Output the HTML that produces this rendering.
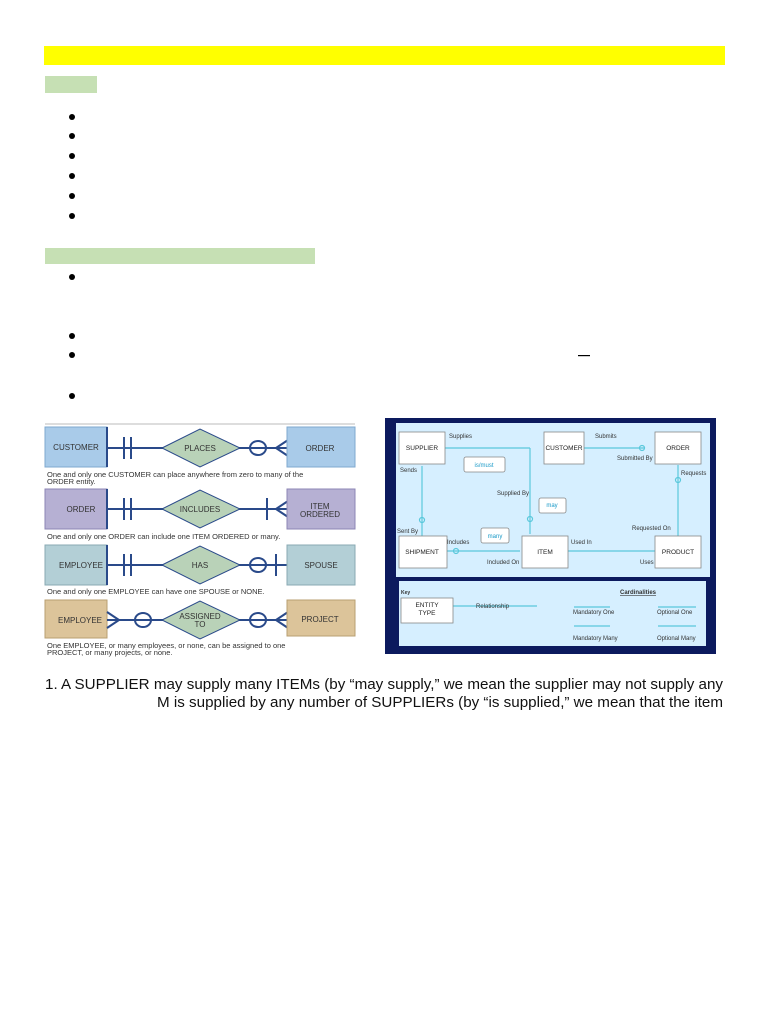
<!DOCTYPE html>
<html><head><meta charset="utf-8"><style>
html,body{margin:0;padding:0;background:#fff;}
svg{display:block;font-family:"Liberation Sans",Arial,sans-serif;}
</style></head><body>
<svg width="768" height="1024" viewBox="0 0 768 1024" xmlns="http://www.w3.org/2000/svg">
<rect x="44" y="46" width="681" height="19" fill="#ffff00"/>
<rect x="45" y="76" width="52" height="17" fill="#c6e0b4"/>
<rect x="45" y="248" width="270" height="16" fill="#c6e0b4"/>
<g fill="#000">
<circle cx="72" cy="117" r="3"/><circle cx="72" cy="136" r="3"/><circle cx="72" cy="156" r="3"/>
<circle cx="72" cy="176" r="3"/><circle cx="72" cy="196" r="3"/><circle cx="72" cy="216" r="3"/>
<circle cx="72" cy="277" r="3"/><circle cx="72" cy="336" r="3"/><circle cx="72" cy="355" r="3"/>
<circle cx="72" cy="396" r="3"/>
</g>
<rect x="578" y="355" width="12" height="1.2" fill="#000"/>

<!-- Left diagram -->
<g font-size="8" fill="#333">
<line x1="45" y1="424" x2="355" y2="424" stroke="#bbb"/>
<!-- row1 -->
<rect x="45" y="427" width="62" height="40" fill="#a9cbe9" stroke="#7fa8cf"/>
<rect x="106" y="427" width="2" height="40" fill="#2a4a8a"/>
<text x="76" y="450" text-anchor="middle">CUSTOMER</text>
<line x1="108" y1="448" x2="288" y2="448" stroke="#2a4a8a" stroke-width="2"/>
<line x1="124" y1="437" x2="124" y2="459" stroke="#2a4a8a" stroke-width="2"/>
<line x1="131" y1="437" x2="131" y2="459" stroke="#2a4a8a" stroke-width="2"/>
<polygon points="162,448 200,429 240,448 200,467" fill="#b9d2b8" stroke="#2a4a8a"/>
<text x="200" y="451" text-anchor="middle">PLACES</text>
<ellipse cx="258" cy="448" rx="8" ry="7" fill="none" stroke="#2a4a8a" stroke-width="2"/>
<line x1="276" y1="448" x2="288" y2="440" stroke="#2a4a8a" stroke-width="2"/>
<line x1="276" y1="448" x2="288" y2="456" stroke="#2a4a8a" stroke-width="2"/>
<rect x="287" y="427" width="68" height="40" fill="#a9cbe9" stroke="#7fa8cf"/>
<text x="320" y="451" text-anchor="middle">ORDER</text>
<text x="47" y="477" font-size="7.5">One and only one CUSTOMER can place anywhere from zero to many of the</text>
<text x="47" y="484" font-size="7.5">ORDER entity.</text>
<!-- row2 -->
<rect x="45" y="489" width="62" height="40" fill="#b6b0d3" stroke="#8c86b4"/>
<rect x="106" y="489" width="2" height="40" fill="#2a4a8a"/>
<text x="81" y="512" text-anchor="middle">ORDER</text>
<line x1="108" y1="509" x2="288" y2="509" stroke="#2a4a8a" stroke-width="2"/>
<line x1="124" y1="498" x2="124" y2="520" stroke="#2a4a8a" stroke-width="2"/>
<line x1="131" y1="498" x2="131" y2="520" stroke="#2a4a8a" stroke-width="2"/>
<polygon points="162,509 200,490 240,509 200,528" fill="#b9d2b8" stroke="#2a4a8a"/>
<text x="200" y="512" text-anchor="middle">INCLUDES</text>
<line x1="267" y1="498" x2="267" y2="520" stroke="#2a4a8a" stroke-width="2"/>
<line x1="276" y1="509" x2="288" y2="501" stroke="#2a4a8a" stroke-width="2"/>
<line x1="276" y1="509" x2="288" y2="517" stroke="#2a4a8a" stroke-width="2"/>
<rect x="287" y="489" width="68" height="40" fill="#b6b0d3" stroke="#8c86b4"/>
<text x="320" y="509" text-anchor="middle">ITEM</text>
<text x="320" y="517" text-anchor="middle">ORDERED</text>
<text x="47" y="539" font-size="7.5">One and only one ORDER can include one ITEM ORDERED or many.</text>
<!-- row3 -->
<rect x="45" y="545" width="62" height="40" fill="#b3cfd6" stroke="#88aab3"/>
<rect x="106" y="545" width="2" height="40" fill="#2a4a8a"/>
<text x="81" y="568" text-anchor="middle">EMPLOYEE</text>
<line x1="108" y1="565" x2="288" y2="565" stroke="#2a4a8a" stroke-width="2"/>
<line x1="124" y1="554" x2="124" y2="576" stroke="#2a4a8a" stroke-width="2"/>
<line x1="131" y1="554" x2="131" y2="576" stroke="#2a4a8a" stroke-width="2"/>
<polygon points="162,565 200,546 240,565 200,584" fill="#b9d2b8" stroke="#2a4a8a"/>
<text x="200" y="568" text-anchor="middle">HAS</text>
<ellipse cx="258" cy="565" rx="8" ry="7" fill="none" stroke="#2a4a8a" stroke-width="2"/>
<line x1="276" y1="554" x2="276" y2="576" stroke="#2a4a8a" stroke-width="2"/>
<rect x="287" y="545" width="68" height="40" fill="#b3cfd6" stroke="#88aab3"/>
<text x="321" y="568" text-anchor="middle">SPOUSE</text>
<text x="47" y="594" font-size="7.5">One and only one EMPLOYEE can have one SPOUSE or NONE.</text>
<!-- row4 -->
<rect x="45" y="600" width="62" height="38" fill="#dcc49a" stroke="#b89f72"/>
<text x="80" y="623" text-anchor="middle">EMPLOYEE</text>
<line x1="107" y1="620" x2="288" y2="620" stroke="#2a4a8a" stroke-width="2"/>
<line x1="107" y1="612" x2="119" y2="620" stroke="#2a4a8a" stroke-width="2"/>
<line x1="107" y1="628" x2="119" y2="620" stroke="#2a4a8a" stroke-width="2"/>
<ellipse cx="143" cy="620" rx="8" ry="7" fill="none" stroke="#2a4a8a" stroke-width="2"/>
<polygon points="162,620 200,601 240,620 200,639" fill="#b9d2b8" stroke="#2a4a8a"/>
<text x="200" y="619" text-anchor="middle">ASSIGNED</text>
<text x="200" y="627" text-anchor="middle">TO</text>
<ellipse cx="258" cy="620" rx="8" ry="7" fill="none" stroke="#2a4a8a" stroke-width="2"/>
<line x1="276" y1="620" x2="288" y2="612" stroke="#2a4a8a" stroke-width="2"/>
<line x1="276" y1="620" x2="288" y2="628" stroke="#2a4a8a" stroke-width="2"/>
<rect x="287" y="600" width="68" height="36" fill="#dcc49a" stroke="#b89f72"/>
<text x="320" y="622" text-anchor="middle">PROJECT</text>
<text x="47" y="648" font-size="7.5">One EMPLOYEE, or many employees, or none, can be assigned to one</text>
<text x="47" y="655" font-size="7.5">PROJECT, or many projects, or none.</text>
</g>

<!-- Right diagram -->
<rect x="385" y="418" width="331" height="236" fill="#0c1a5e"/>
<rect x="396" y="423" width="314" height="154" fill="#d6efff"/>
<rect x="399" y="581" width="307" height="65" fill="#d6efff"/>
<g stroke="#5ac8dc" stroke-width="1.2" fill="none">
<line x1="445" y1="448" x2="530" y2="448"/><line x1="530" y1="448" x2="530" y2="534"/>
<line x1="584" y1="448" x2="645" y2="448"/>
<line x1="678" y1="465" x2="678" y2="536"/>
<line x1="422" y1="466" x2="422" y2="537"/>
<line x1="447" y1="551" x2="520" y2="551"/>
<line x1="568" y1="551" x2="655" y2="551"/>
<line x1="453" y1="606" x2="537" y2="606"/>
<line x1="574" y1="607" x2="610" y2="607"/><line x1="658" y1="607" x2="696" y2="607"/>
<line x1="574" y1="626" x2="610" y2="626"/><line x1="658" y1="626" x2="696" y2="626"/>
<circle cx="530" cy="519" r="2.5"/><circle cx="422" cy="520" r="2.5"/><circle cx="456" cy="551" r="2.5"/>
<circle cx="642" cy="448" r="2.5"/><circle cx="678" cy="480" r="2.5"/>
</g>
<g fill="#fff" stroke="#888" stroke-width="0.8">
<rect x="399" y="432" width="46" height="32"/><rect x="544" y="432" width="40" height="32"/>
<rect x="655" y="432" width="46" height="32"/><rect x="399" y="536" width="48" height="32"/>
<rect x="522" y="536" width="46" height="32"/><rect x="655" y="536" width="46" height="32"/>
<rect x="401" y="598" width="52" height="25"/>
<rect x="464" y="457" width="41" height="15" rx="2"/><rect x="539" y="498" width="27" height="15" rx="2"/>
<rect x="481" y="528" width="28" height="15" rx="2"/>
</g>
<g font-size="6.5" fill="#222" text-anchor="middle">
<text x="422" y="450">SUPPLIER</text><text x="564" y="450">CUSTOMER</text><text x="678" y="450">ORDER</text>
<text x="422" y="554">SHIPMENT</text><text x="545" y="554">ITEM</text><text x="678" y="554">PRODUCT</text>
<text x="427" y="607">ENTITY</text><text x="427" y="615">TYPE</text>
</g>
<g font-size="6" fill="#333">
<text x="449" y="438">Supplies</text><text x="595" y="438">Submits</text><text x="617" y="460">Submitted By</text>
<text x="400" y="472">Sends</text><text x="681" y="475">Requests</text><text x="497" y="495">Supplied By</text>
<text x="397" y="533">Sent By</text><text x="632" y="530">Requested On</text><text x="447" y="544">Includes</text>
<text x="571" y="544">Used In</text><text x="487" y="564">Included On</text><text x="640" y="564">Uses</text>
<text x="476" y="608">Relationship</text><text x="401" y="594" font-weight="bold" font-size="5">Key</text>
<text x="620" y="594" font-weight="bold" text-decoration="underline">Cardinalities</text>
<text x="573" y="614">Mandatory One</text><text x="657" y="614">Optional One</text>
<text x="573" y="640">Mandatory Many</text><text x="657" y="640">Optional Many</text>
</g>
<g font-size="6" fill="#1a9ac8" text-anchor="middle">
<text x="484" y="467">is/must</text><text x="552" y="507">may</text><text x="495" y="538">many</text>
</g>

<g font-size="15" fill="#111">
<text x="45" y="689" textLength="678" lengthAdjust="spacingAndGlyphs">1. A SUPPLIER may supply many ITEMs (by “may supply,” we mean the supplier may not supply any</text>
<text x="157" y="707" textLength="566" lengthAdjust="spacingAndGlyphs">M is supplied by any number of SUPPLIERs (by “is supplied,” we mean that the item</text>
</g>
</svg>
</body></html>
